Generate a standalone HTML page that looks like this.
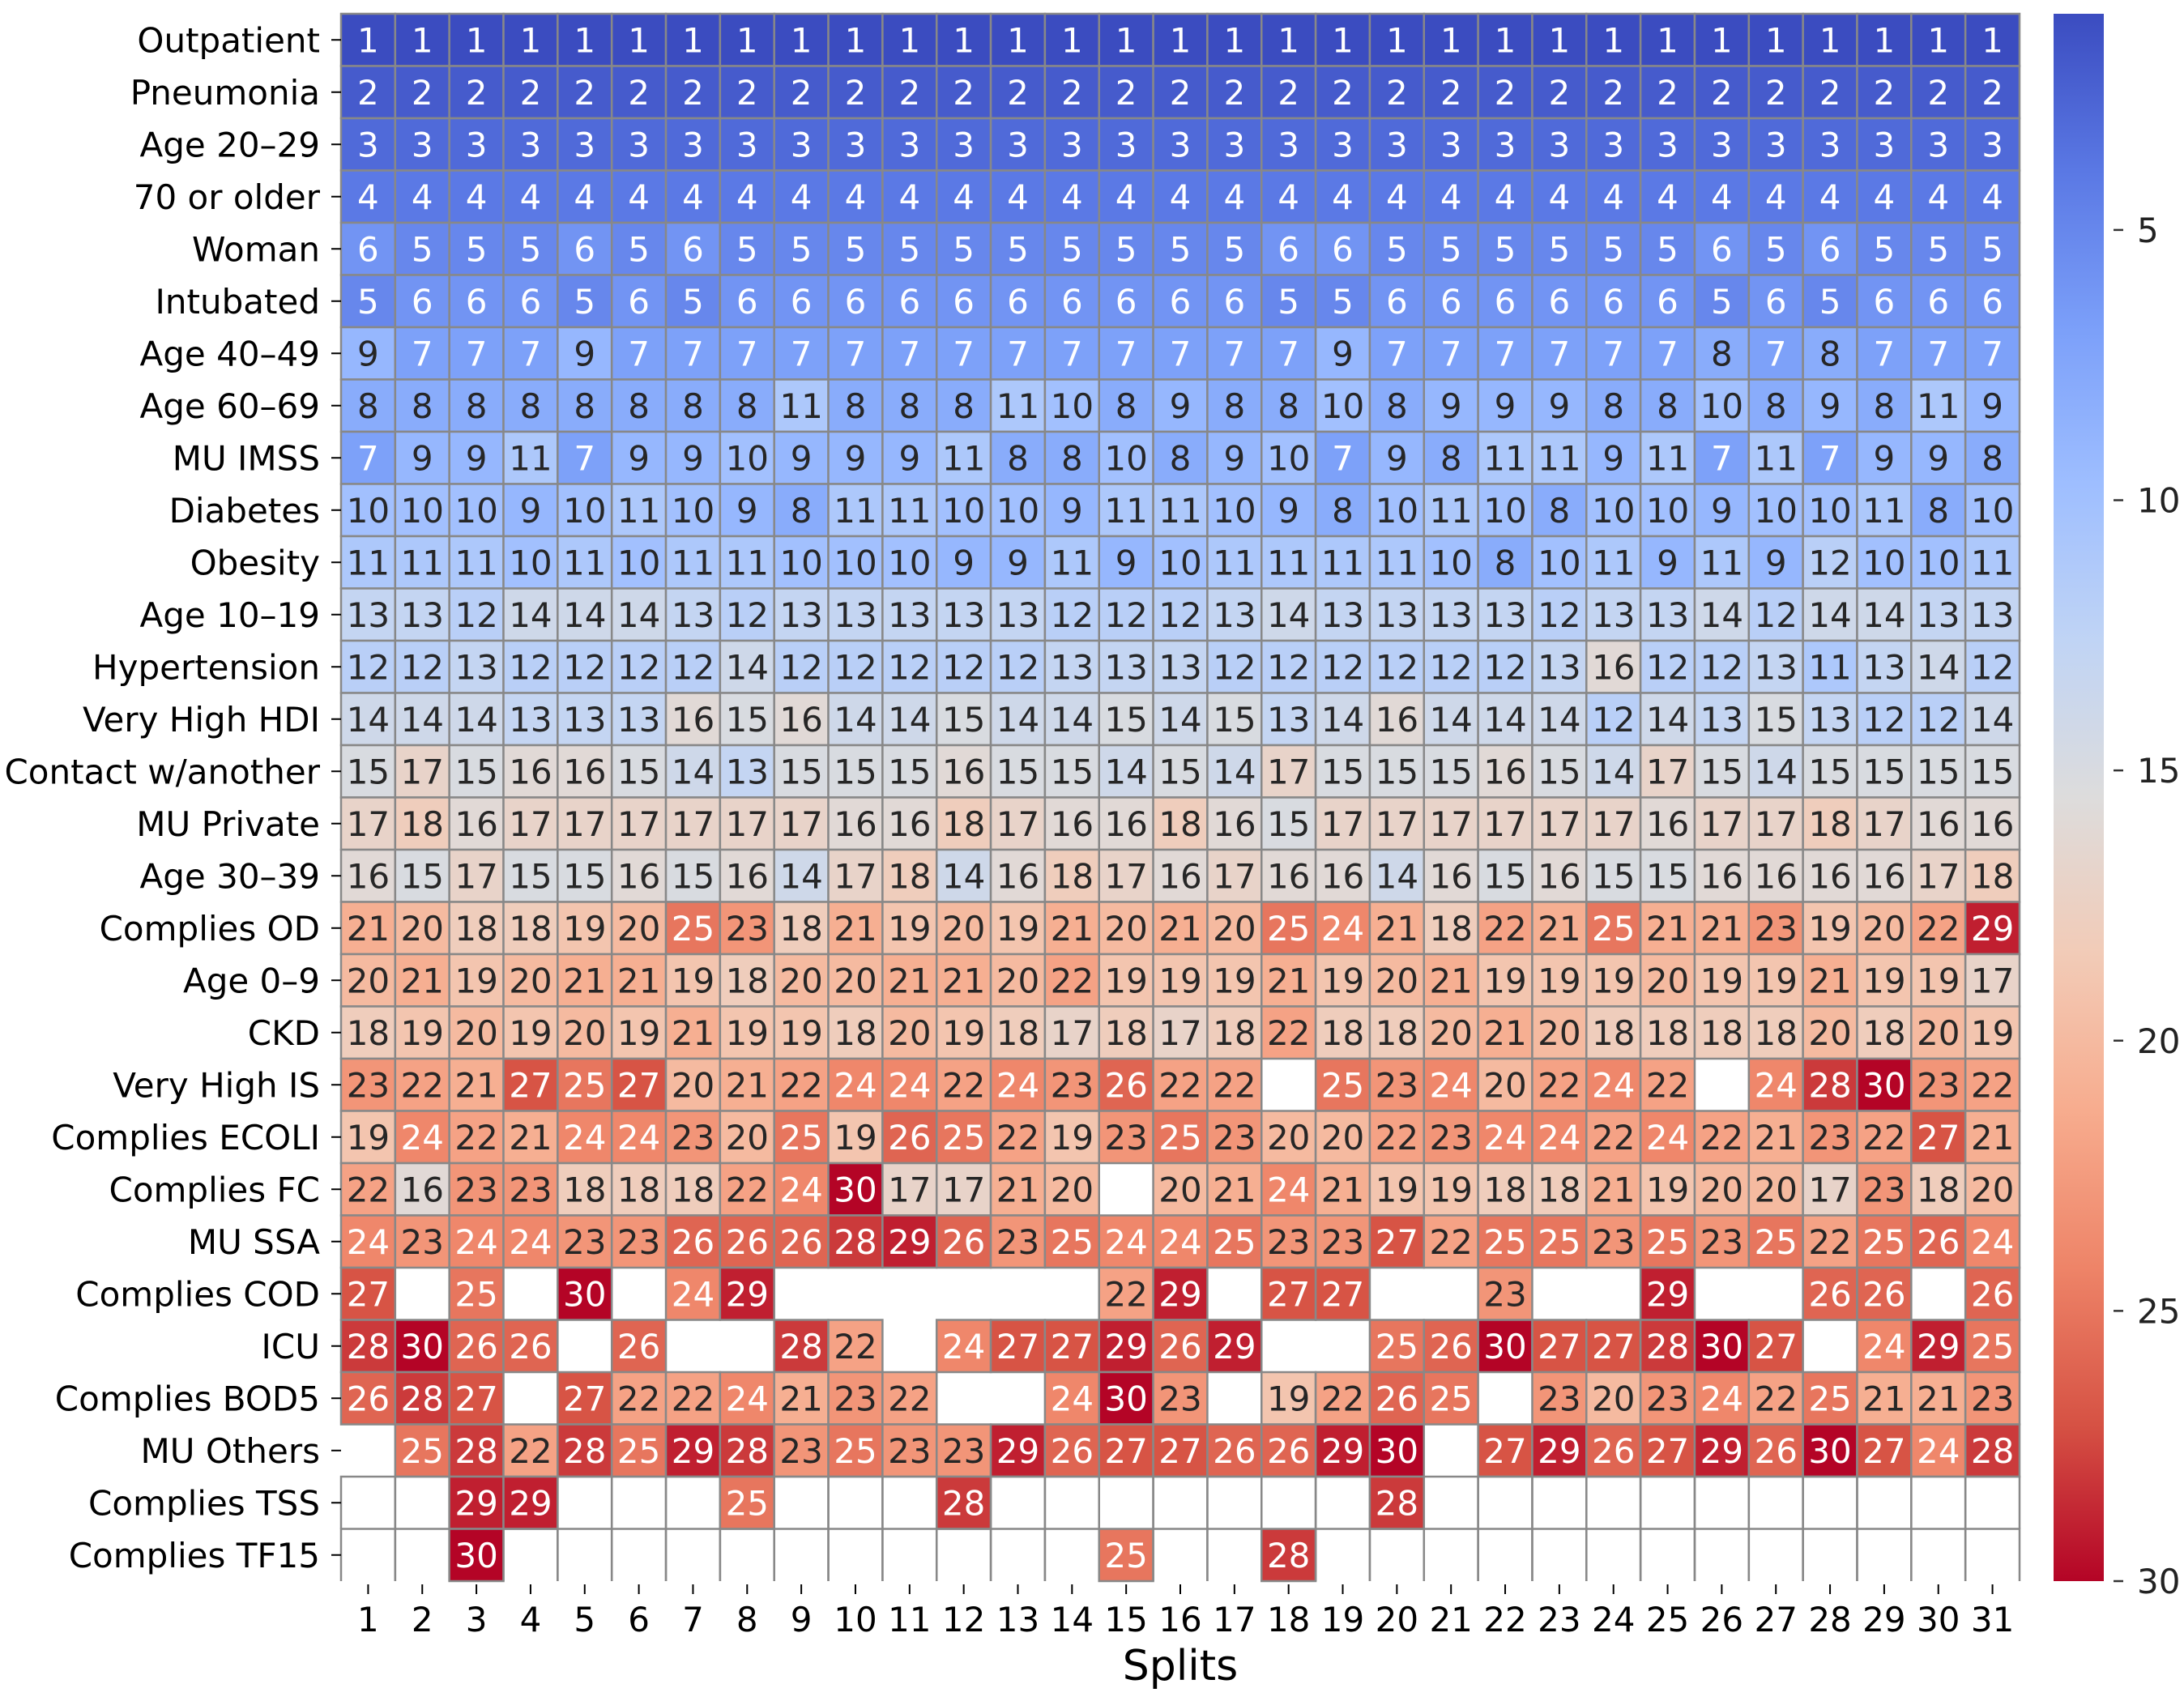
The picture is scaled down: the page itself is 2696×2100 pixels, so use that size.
<!DOCTYPE html>
<html><head><meta charset="utf-8"><style>
html,body{margin:0;padding:0;background:#fff;}
svg{display:block;font-family:"DejaVu Sans","Liberation Sans",sans-serif;}
</style></head><body>
<svg id="chart" width="2696" height="2100" viewBox="0 0 2696 2100" xmlns="http://www.w3.org/2000/svg">
<defs>
<linearGradient id="cbgrad" x1="0" y1="0" x2="0" y2="1">
<stop offset="0" stop-color="#3b4cc0"/><stop offset="0.1" stop-color="#5a78e4"/><stop offset="0.2" stop-color="#7b9ff9"/><stop offset="0.3" stop-color="#9ebeff"/><stop offset="0.4" stop-color="#c0d4f5"/><stop offset="0.5" stop-color="#dddcdc"/><stop offset="0.6" stop-color="#f2cbb7"/><stop offset="0.7" stop-color="#f7ac8e"/><stop offset="0.8" stop-color="#ee8468"/><stop offset="0.9" stop-color="#d65244"/><stop offset="1" stop-color="#b40426"/>
</linearGradient>
</defs>
<g id="cells"></g>
<g id="ylabels"></g>
<g id="xlabels"></g>
<text x="1457" y="2074" font-size="52" text-anchor="middle" fill="#000">Splits</text>
<rect x="2535" y="17" width="62" height="1935" fill="url(#cbgrad)"/>
<g id="cbticks"></g>
</svg>
<script>
const rowLabels = ["Outpatient","Pneumonia","Age 20–29","70 or older","Woman","Intubated","Age 40–49","Age 60–69","MU IMSS","Diabetes","Obesity","Age 10–19","Hypertension","Very High HDI","Contact w/another","MU Private","Age 30–39","Complies OD","Age 0–9","CKD","Very High IS","Complies ECOLI","Complies FC","MU SSA","Complies COD","ICU","Complies BOD5","MU Others","Complies TSS","Complies TF15"];
const colLabels = ["1","2","3","4","5","6","7","8","9","10","11","12","13","14","15","16","17","18","19","20","21","22","23","24","25","26","27","28","29","30","31"];
const cbTicks = [5,10,15,20,25,30];
const N = null;
const r_outpatient = Array(31).fill(1);
const r_pneumonia = Array(31).fill(2);
const r_age2029 = Array(31).fill(3);
const r_70older = Array(31).fill(4);
const r_woman = [6,5,5,5,6,5,6,5,5,5,5,5,5,5,5,5,5,6,6,5,5,5,5,5,5,6,5,6,5,5,5];
const r_intubated = [5,6,6,6,5,6,5,6,6,6,6,6,6,6,6,6,6,5,5,6,6,6,6,6,6,5,6,5,6,6,6];
const r_age4049 = [9,7,7,7,9,7,7,7,7,7,7,7,7,7,7,7,7,7,9,7,7,7,7,7,7,8,7,8,7,7,7];
const r_age6069 = [8,8,8,8,8,8,8,8,11,8,8,8,11,10,8,9,8,8,10,8,9,9,9,8,8,10,8,9,8,11,9];
const r_muimss = [7,9,9,11,7,9,9,10,9,9,9,11,8,8,10,8,9,10,7,9,8,11,11,9,11,7,11,7,9,9,8];
const r_diabetes = [10,10,10,9,10,11,10,9,8,11,11,10,10,9,11,11,10,9,8,10,11,10,8,10,10,9,10,10,11,8,10];
const r_obesity = [11,11,11,10,11,10,11,11,10,10,10,9,9,11,9,10,11,11,11,11,10,8,10,11,9,11,9,12,10,10,11];
const r_age1019 = [13,13,12,14,14,14,13,12,13,13,13,13,13,12,12,12,13,14,13,13,13,13,12,13,13,14,12,14,14,13,13];
const r_hypert = [12,12,13,12,12,12,12,14,12,12,12,12,12,13,13,13,12,12,12,12,12,12,13,16,12,12,13,11,13,14,12];
const r_hdi = [14,14,14,13,13,13,16,15,16,14,14,15,14,14,15,14,15,13,14,16,14,14,14,12,14,13,15,13,12,12,14];
const r_contact = [15,17,15,16,16,15,14,13,15,15,15,16,15,15,14,15,14,17,15,15,15,16,15,14,17,15,14,15,15,15,15];
const r_private = [17,18,16,17,17,17,17,17,17,16,16,18,17,16,16,18,16,15,17,17,17,17,17,17,16,17,17,18,17,16,16];
const r_age3039 = [16,15,17,15,15,16,15,16,14,17,18,14,16,18,17,16,17,16,16,14,16,15,16,15,15,16,16,16,16,17,18];
const r_od = [21,20,18,18,19,20,25,23,18,21,19,20,19,21,20,21,20,25,24,21,18,22,21,25,21,21,23,19,20,22,29];
const r_age09 = [20,21,19,20,21,21,19,18,20,20,21,21,20,22,19,19,19,21,19,20,21,19,19,19,20,19,19,21,19,19,17];
const r_ckd = [18,19,20,19,20,19,21,19,19,18,20,19,18,17,18,17,18,22,18,18,20,21,20,18,18,18,18,20,18,20,19];
const r_is = [23,22,21,27,25,27,20,21,22,24,24,22,24,23,26,22,22,N,25,23,24,20,22,24,22,N,24,28,30,23,22];
const r_ecoli = [19,24,22,21,24,24,23,20,25,19,26,25,22,19,23,25,23,20,20,22,23,24,24,22,24,22,21,23,22,27,21];
const r_fc = [22,16,23,23,18,18,18,22,24,30,17,17,21,20,N,20,21,24,21,19,19,18,18,21,19,20,20,17,23,18,20];
const r_ssa = [24,23,24,24,23,23,26,26,26,28,29,26,23,25,24,24,25,23,23,27,22,25,25,23,25,23,25,22,25,26,24];
const r_cod = [27,N,25,N,30,N,24,29,N,N,N,N,N,N,22,29,N,27,27,N,N,23,N,N,29,N,N,26,26,N,26];
const r_icu = [28,30,26,26,N,26,N,N,28,22,N,24,27,27,29,26,29,N,N,25,26,30,27,27,28,30,27,N,24,29,25];
const r_bod5 = [26,28,27,N,27,22,22,24,21,23,22,N,N,24,30,23,N,19,22,26,25,N,23,20,23,24,22,25,21,21,23];
const r_others = [N,25,28,22,28,25,29,28,23,25,23,23,29,26,27,27,26,26,29,30,N,27,29,26,27,29,26,30,27,24,28];
const r_tss = [N,N,29,29,N,N,N,25,N,N,N,28,N,N,N,N,N,N,N,28,N,N,N,N,N,N,N,N,N,N,N];
const r_tf15 = [N,N,30,N,N,N,N,N,N,N,N,N,N,N,25,N,N,28,N,N,N,N,N,N,N,N,N,N,N,N,N];
const values = [r_outpatient,r_pneumonia,r_age2029,r_70older,r_woman,r_intubated,r_age4049,r_age6069,r_muimss,r_diabetes,r_obesity,r_age1019,r_hypert,r_hdi,r_contact,r_private,r_age3039,r_od,r_age09,r_ckd,r_is,r_ecoli,r_fc,r_ssa,r_cod,r_icu,r_bod5,r_others,r_tss,r_tf15];

const L=421,R=2493,T=17,B=1952,vmin=1,vmax=30;
const nR=rowLabels.length,nC=colLabels.length;
const cw=(R-L)/nC, ch=(B-T)/nR;
const xS=i=>L+i*cw, yS=j=>T+j*ch;
const cbY=v=>T+(v-vmin)/(vmax-vmin)*(B-T);
const stops=[[59,76,192],[90,120,228],[123,159,249],[158,190,255],[192,212,245],[221,220,220],[242,203,183],[247,172,142],[238,132,104],[214,82,68],[180,4,38]];
function color(v){let t=(v-vmin)/(vmax-vmin)*10;let i=Math.min(9,Math.floor(t));let f=t-i;const a=stops[i],b=stops[i+1];return [0,1,2].map(k=>Math.round(a[k]+(b[k]-a[k])*f));}
function lum(c){const l=c.map(x=>{x/=255;return x<=0.03928?x/12.92:Math.pow((x+0.055)/1.055,2.4);});return 0.2126*l[0]+0.7152*l[1]+0.0722*l[2];}
const NS="http://www.w3.org/2000/svg";
const cells=document.getElementById('cells');
const gridRows=new Set(["Complies TSS","Complies TF15"]);
for(let j=0;j<nR;j++){for(let i=0;i<nC;i++){
  const v=values[j][i];
  if(v===null){
    if(gridRows.has(rowLabels[j])){
      const x0=xS(i),y0=yS(j),x1=x0+cw,y1=y0+ch;
      const p=document.createElementNS(NS,'path');
      
      
      p.setAttribute('d',`M${x0},${y1}L${x0},${y0}L${x1},${y0}L${x1},${y1}`);
      p.setAttribute('fill','none');p.setAttribute('stroke','#888');p.setAttribute('stroke-width','2.5');
      cells.appendChild(p);
    }
    continue;
  }
  const c=color(v);
  const r=document.createElementNS(NS,'rect');
  
  
  r.setAttribute('x',xS(i));r.setAttribute('y',yS(j));r.setAttribute('width',cw);r.setAttribute('height',ch);
  r.setAttribute('fill',`rgb(${c[0]},${c[1]},${c[2]})`);r.setAttribute('stroke','#888');r.setAttribute('stroke-width','2.5');
  cells.appendChild(r);
  const t=document.createElementNS(NS,'text');
  
  
  t.setAttribute('x',xS(i)+cw/2);t.setAttribute('y',yS(j)+ch/2+15);
  t.setAttribute('text-anchor','middle');t.setAttribute('font-size','42');
  t.setAttribute('fill',lum(c)>0.408?'#262626':'#ffffff');
  t.textContent=v;cells.appendChild(t);
}}
const yl=document.getElementById('ylabels');
rowLabels.forEach((lab,j)=>{
  const y=yS(j)+ch/2;
  const tk=document.createElementNS(NS,'line');
  
  
  tk.setAttribute('x1',L-12);tk.setAttribute('x2',L);tk.setAttribute('y1',y);tk.setAttribute('y2',y);tk.setAttribute('stroke','#000');tk.setAttribute('stroke-width','2');
  yl.appendChild(tk);
  const t=document.createElementNS(NS,'text');
  
  
  t.setAttribute('x',L-26);t.setAttribute('y',y+15);t.setAttribute('text-anchor','end');t.setAttribute('font-size','42');t.setAttribute('fill','#000');
  t.textContent=lab;yl.appendChild(t);
});
const xl=document.getElementById('xlabels');
colLabels.forEach((lab,i)=>{
  const x=xS(i)+cw/2;
  const tk=document.createElementNS(NS,'line');
  
  
  tk.setAttribute('x1',x);tk.setAttribute('x2',x);tk.setAttribute('y1',B+4);tk.setAttribute('y2',B+16);tk.setAttribute('stroke','#000');tk.setAttribute('stroke-width','2');
  xl.appendChild(tk);
  const t=document.createElementNS(NS,'text');
  
  
  t.setAttribute('x',x);t.setAttribute('y',B+62);t.setAttribute('text-anchor','middle');t.setAttribute('font-size','42');t.setAttribute('fill','#000');
  t.textContent=lab;xl.appendChild(t);
});
const cb=document.getElementById('cbticks');
cbTicks.forEach(v=>{
  const y=cbY(v);
  const tk=document.createElementNS(NS,'line');
  
  
  tk.setAttribute('x1',2609);tk.setAttribute('x2',2621);tk.setAttribute('y1',y);tk.setAttribute('y2',y);tk.setAttribute('stroke','#333');tk.setAttribute('stroke-width','2.5');
  cb.appendChild(tk);
  const t=document.createElementNS(NS,'text');
  
  
  t.setAttribute('x',2638);t.setAttribute('y',y+15);t.setAttribute('font-size','42');t.setAttribute('fill','#222');
  t.textContent=v;cb.appendChild(t);
});
</script>
</body></html>
